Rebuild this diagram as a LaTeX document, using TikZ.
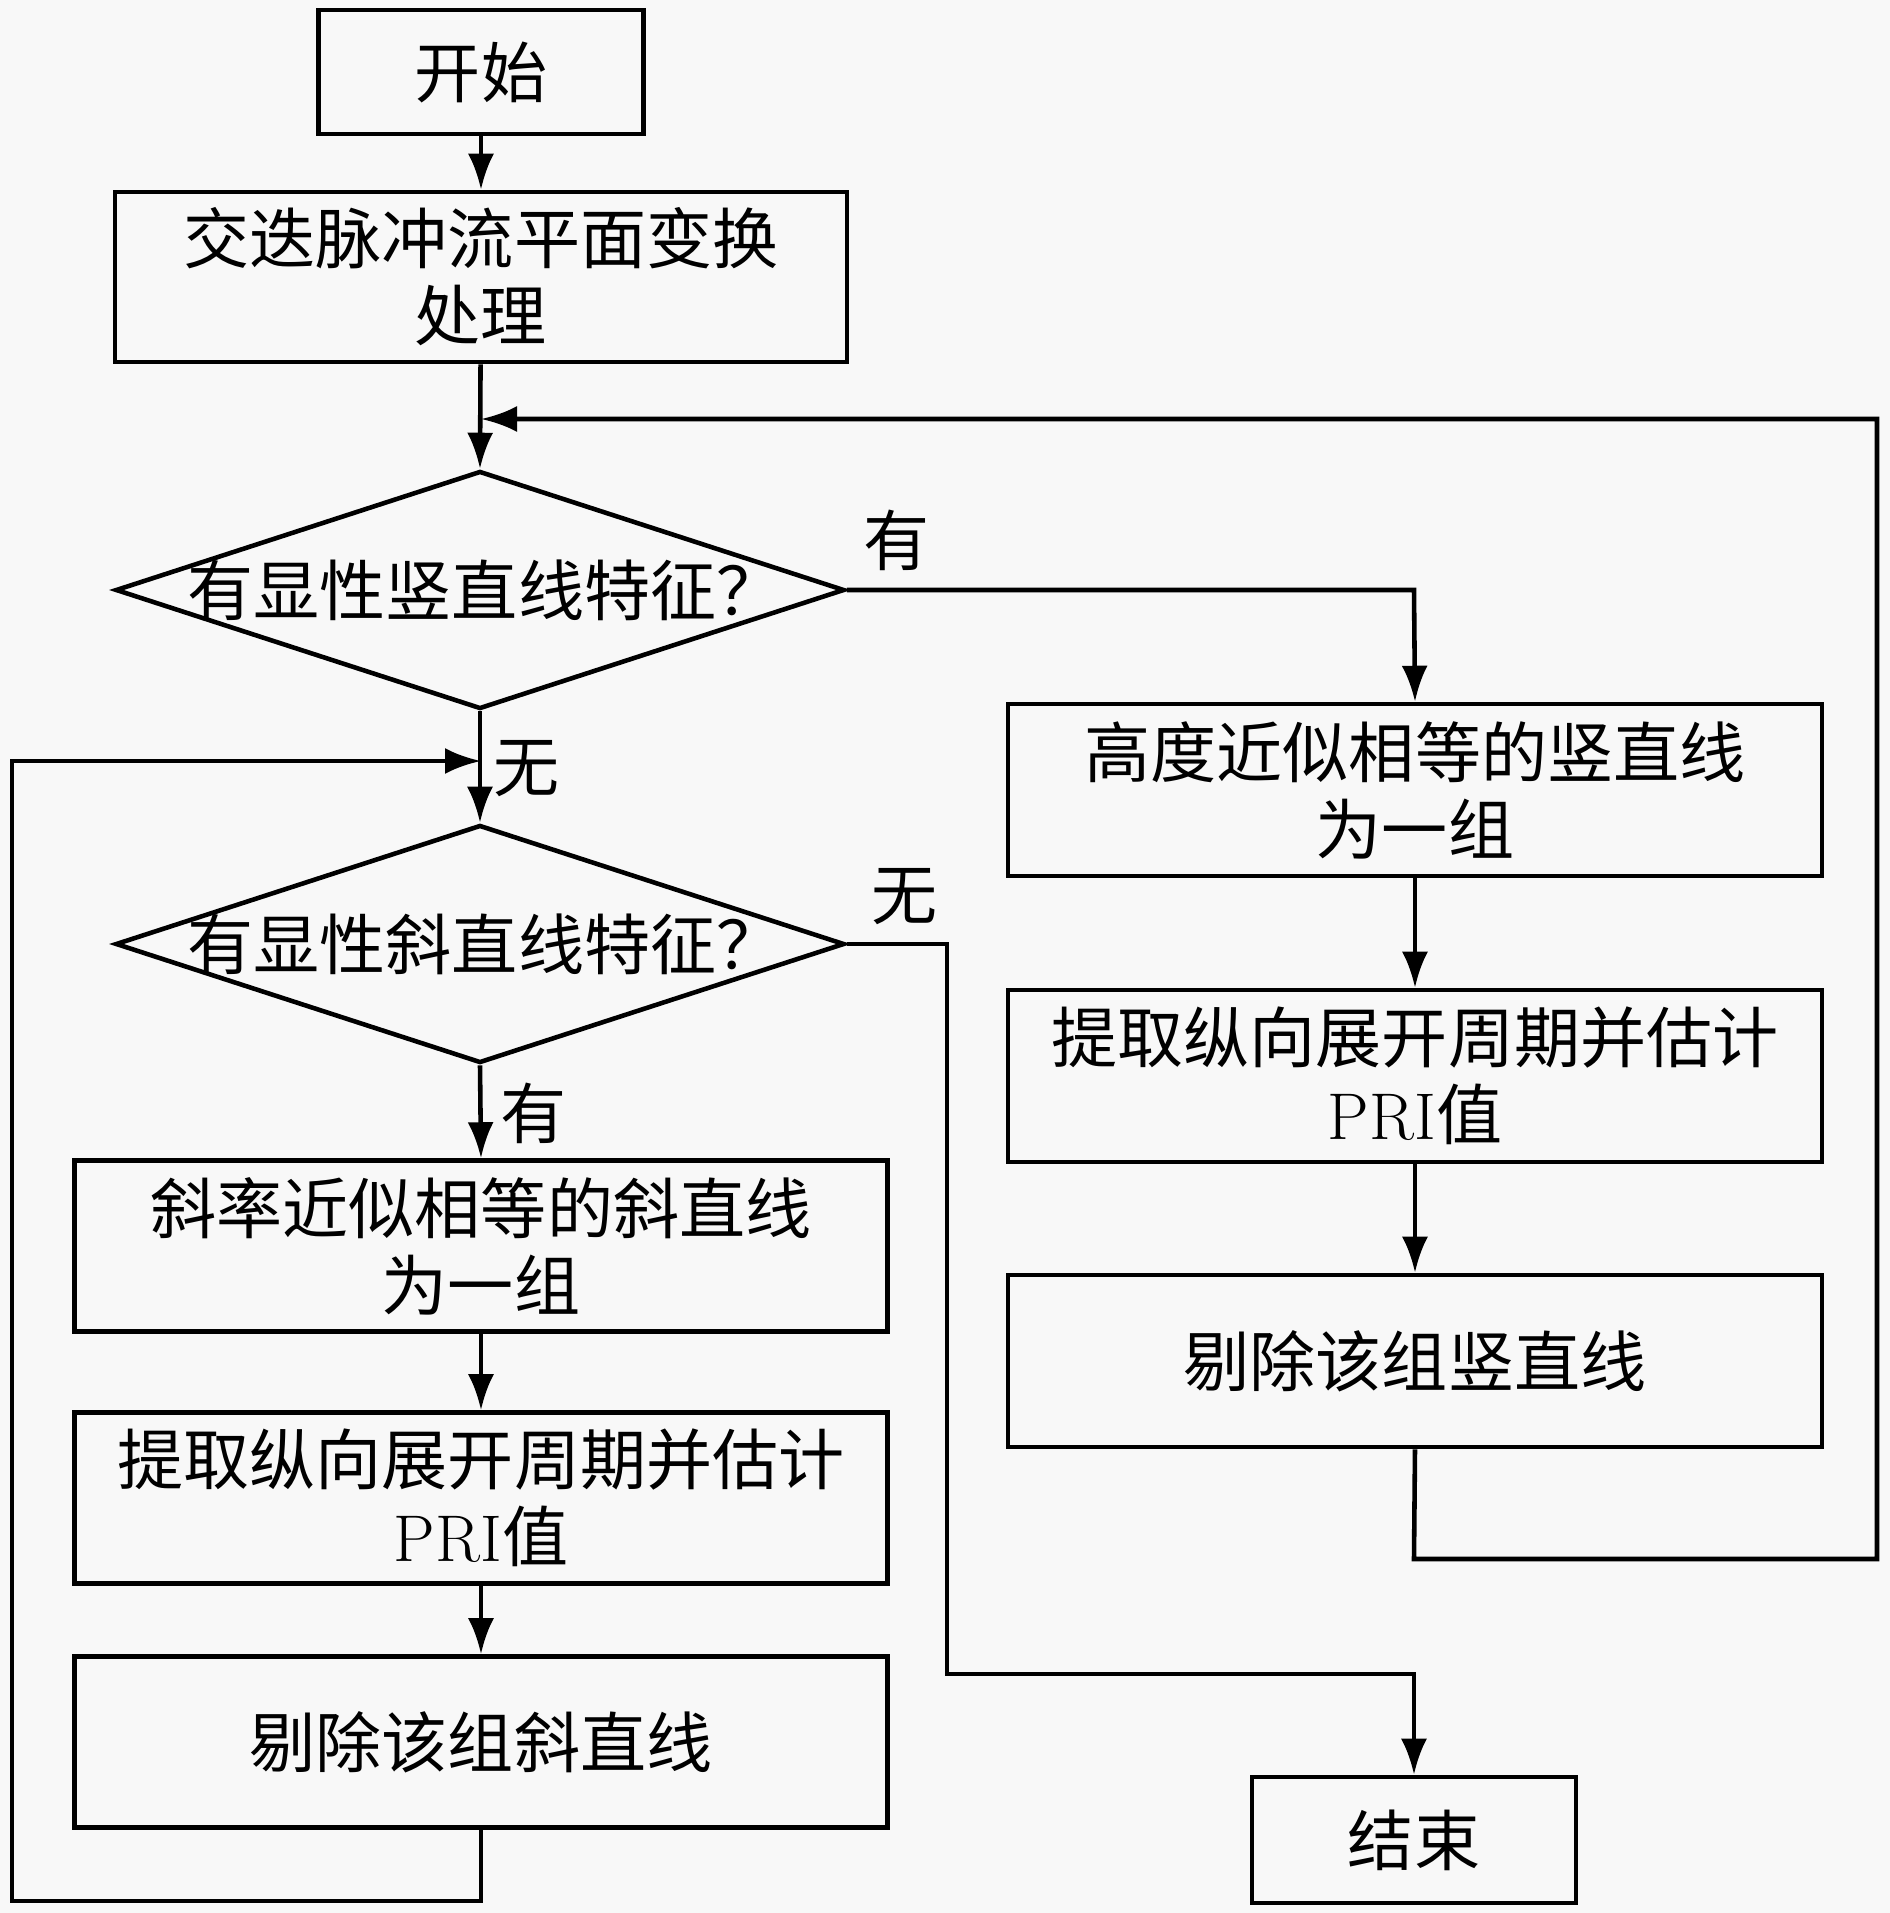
\documentclass[tikz,border=0pt]{standalone}
\usepackage{fontspec}
\newfontfamily\cjk{Noto Sans CJK SC}
\usetikzlibrary{shapes.geometric,arrows.meta}
\definecolor{bg}{RGB}{248,248,248}
\begin{document}
\begin{tikzpicture}[
  line width=1.3pt,
  txt/.style={align=center,font=\cjk\fontsize{18.8}{21.9}\selectfont,inner sep=0pt},
  procbox/.style={draw,rectangle,inner sep=0pt,txt},
  dia/.style={draw,diamond,inner sep=0pt},
  arr/.style={-{Latex[length=3.6mm,width=2.6mm]}},
  lab/.style={font=\cjk\fontsize{18.8}{21.9}\selectfont,inner sep=0pt}
]
\useasboundingbox[fill=bg] (0,0) rectangle (18.9,-19.13);
\node[procbox,minimum width=3.25cm,minimum height=1.24cm] (start) at (4.81,-0.72) {开始};
\node[procbox,minimum width=7.32cm,minimum height=1.70cm] (proc) at (4.81,-2.77) {交迭脉冲流平面变换\\处理};
\node[dia,minimum width=7.29cm,minimum height=2.38cm] (d1) at (4.80,-5.90) {};
\node[txt] at (4.85,-5.90) {有显性竖直线特征？};
\node[procbox,minimum width=8.14cm,minimum height=1.72cm] (r1) at (14.15,-7.90) {高度近似相等的竖直线\\为一组};
\node[procbox,minimum width=8.14cm,minimum height=1.72cm] (r2) at (14.15,-10.76) {提取纵向展开周期并估计\\{\rmfamily PRI}值};
\node[procbox,minimum width=8.14cm,minimum height=1.72cm] (r3) at (14.15,-13.61) {剔除该组竖直线};
\node[dia,minimum width=7.29cm,minimum height=2.38cm] (d2) at (4.80,-9.44) {};
\node[txt] at (4.85,-9.44) {有显性斜直线特征？};
\node[procbox,minimum width=8.13cm,minimum height=1.71cm] (l1) at (4.81,-12.46) {斜率近似相等的斜直线\\为一组};
\node[procbox,minimum width=8.13cm,minimum height=1.71cm] (l2) at (4.81,-14.98) {提取纵向展开周期并估计\\{\rmfamily PRI}值};
\node[procbox,minimum width=8.13cm,minimum height=1.71cm] (l3) at (4.81,-17.42) {剔除该组斜直线};
\node[procbox,minimum width=3.24cm,minimum height=1.26cm] (end) at (14.14,-18.40) {结束};

\coordinate (loopR) at (4.81,-4.19);
\coordinate (loopL) at (4.81,-7.61);

\draw[arr] (start) -- (proc);
\draw[arr] (proc) -- (d1.north);
\draw[arr] (d1.east) -- (14.14,-5.90) -- (r1.north);
\draw[arr] (r1) -- (r2);
\draw[arr] (r2) -- (r3);
\draw[arr] (r3.south) -- (14.14,-15.59) -- (18.77,-15.59) -- (18.77,-4.19) -- (loopR);
\draw[arr] (d1.south) -- (d2.north);
\draw[arr] (l3.south) -- (4.81,-19.01) -- (0.12,-19.01) -- (0.12,-7.61) -- (loopL);
\draw[arr] (d2.east) -- (9.47,-9.44) -- (9.47,-16.74) -- (14.14,-16.74) -- (end.north);
\draw[arr] (d2.south) -- (l1.north);
\draw[arr] (l1) -- (l2);
\draw[arr] (l2) -- (l3);

\node[lab] at (8.97,-5.40) {有};
\node[lab] at (5.27,-7.69) {无};
\node[lab] at (9.05,-8.97) {无};
\node[lab] at (5.34,-11.13) {有};
\end{tikzpicture}
\end{document}
